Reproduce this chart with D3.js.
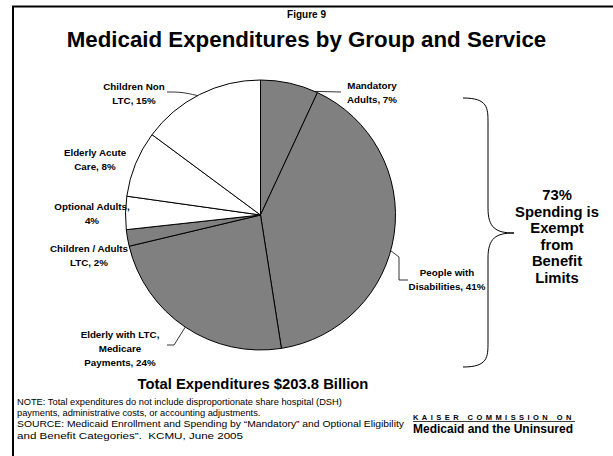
<!DOCTYPE html>
<html><head><meta charset="utf-8">
<script src="https://cdn.jsdelivr.net/npm/d3@7"></script>
<style>
body{margin:0;background:#fff;}
svg{display:block;font-family:"Liberation Sans",Arial,sans-serif;}
text{white-space:pre;}
</style></head>
<body><svg id="c" width="613" height="456"></svg>
<script>
// ---- data ----
const categories = ["Mandatory Adults","People with Disabilities","Elderly with LTC, Medicare Payments","Children / Adults LTC","Optional Adults","Elderly Acute Care","Children Non LTC"];
const values = [7, 41, 24, 2, 4, 8, 15];
const exempt = [true, true, true, true, false, false, false];
const labelLines = [["Mandatory","Adults, 7%"],["People with","Disabilities, 41%"],["Elderly with LTC,","Medicare","Payments, 24%"],["Children / Adults","LTC, 2%"],["Optional Adults,","4%"],["Elderly Acute","Care, 8%"],["Children Non","LTC, 15%"]];
const bracketText = ["73%","Spending is","Exempt","from","Benefit","Limits"];
const noteLines = ["NOTE: Total expenditures do not include disproportionate share hospital (DSH)","payments, administrative costs, or accounting adjustments.","SOURCE: Medicaid Enrollment and Spending by \u201cMandatory\u201d and Optional Eligibility","and Benefit Categories\u201d.  KCMU, June 2005"];

// ---- layout ----
const W=613,H=456, cx=260.5, cy=215, R=135;
const labelPos = [ // x center, first baseline
  [372,89],[447,276],[120,338],[89,252],[92,210],[95,156],[134,90]];
const leaders = [ // fraction along slice angle for leader start, then bend points
  {t:0.95, pts:[[341,92]]},
  {t:0.55, pts:[[399,257],[399,280],[408,280]]},
  {t:0.5, pts:[[174,345],[167,345]]},
  null,null,null,
  {t:0.48, pts:[[182,92],[167,92]], curve:true}
];
const noteWidths = [null, null, 387, 226];

const svg=d3.select("#c");
svg.append("rect").attr("width",W).attr("height",H).attr("fill","#fff");
// frame
svg.append("path").attr("d",`M13,456 V6.5 H613`).attr("fill","none").attr("stroke","#000").attr("stroke-width",2);

svg.append("text").attr("x",306.5).attr("y",18).attr("text-anchor","middle")
  .attr("font-size",10).attr("font-weight","bold").text("Figure 9");
svg.append("text").attr("x",306.5).attr("y",47).attr("text-anchor","middle")
  .attr("font-size",22.3).attr("font-weight","bold").text("Medicaid Expenditures by Group and Service");

const pie=d3.pie().sort(null).value(d=>d)(values);
const arc=d3.arc().innerRadius(0).outerRadius(R);
const g=svg.append("g").attr("transform",`translate(${cx},${cy})`);
g.selectAll("path.s").data(pie).join("path").attr("class","s")
  .attr("d",arc).attr("fill",(d,i)=>exempt[i]?"#808080":"#fff")
  .attr("stroke","#000").attr("stroke-width",1);

// leaders
const line=d3.line();
leaders.forEach((L,i)=>{
  if(!L) return;
  const p=pie[i]; const a=p.startAngle+(p.endAngle-p.startAngle)*L.t;
  const s=[cx+R*Math.sin(a), cy-R*Math.cos(a)];
  const pts=[s,...L.pts];
  svg.append("path").attr("d", L.curve? d3.line().curve(d3.curveBasis)(pts): line(pts))
    .attr("fill","none").attr("stroke","#000").attr("stroke-width",0.8);
});

// labels
labelLines.forEach((lines,i)=>{
  const t=svg.append("text").attr("text-anchor","middle").attr("font-size",9.8).attr("font-weight","bold");
  lines.forEach((l,j)=>t.append("tspan").attr("x",labelPos[i][0]).attr("y",labelPos[i][1]+j*14).text(l));
});

// brace
const bx0=463, bx1=488, bx2=514, by0=98, bym=233, by1=367;
svg.append("path").attr("d",
 `M${bx0},${by0} C${bx1},${by0} ${bx1},${by0+10} ${bx1},${by0+25} V${bym-25} C${bx1},${bym-5} ${bx1+8},${bym} ${bx2},${bym} C${bx1+8},${bym} ${bx1},${bym+5} ${bx1},${bym+25} V${by1-25} C${bx1},${by1-10} ${bx1},${by1} ${bx0},${by1}`)
 .attr("fill","none").attr("stroke","#000").attr("stroke-width",1);
const bt=svg.append("text").attr("text-anchor","middle").attr("font-size",14.8).attr("font-weight","bold");
bracketText.forEach((l,j)=>bt.append("tspan").attr("x",557).attr("y",200+j*16.6).text(l));

svg.append("text").attr("x",253).attr("y",389).attr("text-anchor","middle")
  .attr("font-size",14.8).attr("font-weight","bold").text("Total Expenditures $203.8 Billion");

noteLines.forEach((l,j)=>{
  const t=svg.append("text").attr("font-size",9.3).attr("x",17).attr("y",405+j*11.2).text(l);
  if(noteWidths[j]) t.attr("textLength",noteWidths[j]).attr("lengthAdjust","spacingAndGlyphs");
});

svg.append("text").attr("x",413).attr("y",420).attr("font-size",7.5).attr("font-weight","bold")
  .attr("letter-spacing",3.45).attr("text-decoration","underline").text("KAISER COMMISSION ON");
svg.append("text").attr("x",413).attr("y",433).attr("font-size",12).attr("font-weight","bold")
  .text("Medicaid and the Uninsured");
</script></body></html>
